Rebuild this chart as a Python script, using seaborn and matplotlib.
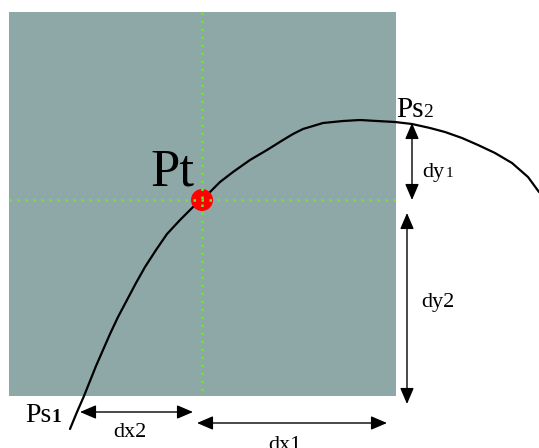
import matplotlib
matplotlib.use("Agg")
import matplotlib.pyplot as plt
import matplotlib.patches as mpatches
import seaborn as sns
import pandas as pd

sns.set_theme(style="white")
plt.rcParams["font.family"] = ["Liberation Serif", "DejaVu Serif"]

# curve samples (pixel-like coordinates, y grows downward)
curve_x = [70, 77, 84, 90, 96, 103, 110, 118, 127, 136, 145, 156, 167, 180, 193, 202,
           210, 220, 233, 250, 267, 283, 293, 303, 313, 323, 343, 360, 377, 395,
           412, 430, 445, 462, 478, 495, 512, 528, 539]
curve_y = [429, 412, 396, 381, 366, 350, 334, 317, 300, 283, 267, 250, 234, 220, 207, 200,
           192, 182, 172, 160, 150, 140, 134, 129, 126, 123, 121, 120, 121, 122,
           124, 128, 132, 138, 145, 153, 163, 177, 192]

# target point Pt
pt_x = [202]
pt_y = [200]

# square window
box_x0, box_y0, box_x1, box_y1 = 9, 12, 396, 396

curve = pd.DataFrame({"x": curve_x, "y": curve_y})

fig = plt.figure(figsize=(5.39, 4.48), dpi=100)
ax = fig.add_axes([0, 0, 1, 1])
ax.set_xlim(0, 539)
ax.set_ylim(448, 0)
ax.axis("off")

ax.add_patch(mpatches.Rectangle((box_x0, box_y0), box_x1 - box_x0, box_y1 - box_y0,
                                facecolor="#8da8a7", edgecolor="none", zorder=0))

sns.lineplot(data=curve, x="x", y="y", sort=False, color="black", linewidth=1.6, ax=ax, zorder=2)
sns.scatterplot(x=pt_x, y=pt_y, s=250, color="red", edgecolor="none", ax=ax, zorder=3)

green = "#6ce82c"
ax.plot([box_x0, box_x1], [pt_y[0], pt_y[0]], color=green, linestyle=(0, (1, 2.2)),
        linewidth=1.8, zorder=4)
ax.plot([pt_x[0], pt_x[0]], [box_y0, box_y1], color=green, linestyle=(0, (1, 2.2)),
        linewidth=1.8, zorder=4)

arrow = dict(arrowstyle="<|-|>,head_length=0.7,head_width=0.3", color="black",
             linewidth=1.0, mutation_scale=14, shrinkA=0, shrinkB=0)
ax.annotate("", xy=(412, 123), xytext=(412, 200), arrowprops=arrow)
ax.annotate("", xy=(407, 213), xytext=(407, 404), arrowprops=arrow)
ax.annotate("", xy=(80, 412), xytext=(193, 412), arrowprops=arrow)
ax.annotate("", xy=(197, 423), xytext=(387, 423), arrowprops=arrow)

# labels
ax.text(150, 185, "Pt", fontsize=38, va="baseline", ha="left", color="black")
ax.text(396, 117, "Ps", fontsize=21, va="baseline", ha="left", color="black")
ax.text(423, 117, "2", fontsize=14, va="baseline", ha="left", color="black")
ax.text(25, 422, "Ps", fontsize=20, va="baseline", ha="left", color="black")
ax.text(51, 422, "1", fontsize=14, va="baseline", ha="left", color="black", fontweight="bold")
ax.text(422, 177, "dy", fontsize=16, va="baseline", ha="left", color="black")
ax.text(446, 177, "1", fontsize=11, va="baseline", ha="left", color="black")
ax.text(421, 307, "dy2", fontsize=16, va="baseline", ha="left", color="black")
ax.text(113, 437, "dx2", fontsize=16, va="baseline", ha="left", color="black")
ax.text(268, 450, "dx1", fontsize=16, va="baseline", ha="left", color="black")

fig.savefig("out.png", dpi=100)
